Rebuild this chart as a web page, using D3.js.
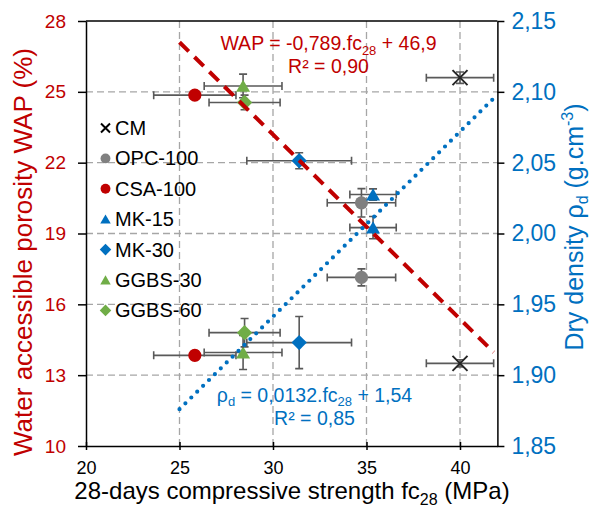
<!DOCTYPE html>
<html>
<head>
<meta charset="utf-8">
<script src="https://cdn.jsdelivr.net/npm/d3@7"></script>
<style>
body { margin: 0; background: #fff; }
svg { font-family: "Liberation Sans", Arial, sans-serif; }
</style>
</head>
<body>
<svg width="591" height="514"></svg>
<script>
// materials, in legend order
var materials = ["CM", "OPC-100", "CSA-100", "MK-15", "MK-30", "GGBS-30", "GGBS-60"];
var fc = [40.0, 34.73, 25.82, 35.35, 31.4, 28.4, 28.48];
var fcErr = [1.8, 1.83, 2.2, 1.24, 2.8, 2.08, 1.9];
var wap = [13.5, 20.3, 24.86, 19.25, 22.08, 25.25, 24.55];
var wapErr = [0.15, 0.6, 0.1, 0.47, 0.34, 0.5, 0.31];
var density = [2.11, 1.969, 1.914, 2.0275, 1.923, 1.916, 1.930];
var densityErr = [0.004, 0.006, 0.003, 0.004, 0.0184, 0.012, 0.01];
var shapes = ["x", "circle", "circle", "triangle", "diamond", "triangle", "diamond"];
var colors = ["#262626", "#808080", "#C00000", "#0070C0", "#0070C0", "#70AD47", "#70AD47"];

// trend lines (end points)
var wapTrend = [[25, 27.1], [41.8, 13.97]];
var densTrend = [[25, 1.876], [42, 2.098]];

var xTicks = [20, 25, 30, 35, 40];
var wapTicks = [10, 13, 16, 19, 22, 25, 28];
var densTicks = [1.85, 1.90, 1.95, 2.00, 2.05, 2.10, 2.15];

var red = "#C00000", blue = "#0070C0";

var svg = d3.select("svg"),
    x = d3.scaleLinear().domain([20, 42]).range([86, 497.4]),
    yW = d3.scaleLinear().domain([10, 28]).range([446, 21]),
    yD = d3.scaleLinear().domain([1.85, 2.15]).range([446, 21]);

// grid
var grid = svg.append("g").attr("stroke", "#A6A6A6").attr("stroke-width", 1.3).attr("stroke-dasharray", "7,4");
grid.selectAll(".h").data(wapTicks.slice(1, -1)).enter().append("line")
    .attr("x1", x(20)).attr("x2", x(42))
    .attr("y1", function (d) { return yW(d); }).attr("y2", function (d) { return yW(d); });
grid.selectAll(".v").data(xTicks.slice(1)).enter().append("line")
    .attr("y1", yW(28)).attr("y2", yW(10))
    .attr("x1", function (d) { return x(d); }).attr("x2", function (d) { return x(d); });

// frame top
svg.append("line").attr("x1", x(20)).attr("x2", x(42)).attr("y1", yW(28)).attr("y2", yW(28))
    .attr("stroke", "#000").attr("stroke-width", 1.5);

// axes
var comma = function (d) { return d3.format(".2f")(d).replace(".", ","); };

var gl = svg.append("g").attr("transform", "translate(" + x(20) + ",0)")
    .call(d3.axisLeft(yW).tickValues(wapTicks).tickSize(8).tickSizeOuter(0).tickPadding(12));
gl.selectAll("text").attr("fill", red).style("font-size", "19px");

var gr = svg.append("g").attr("transform", "translate(" + x(42) + ",0)")
    .call(d3.axisRight(yD).tickValues(densTicks).tickFormat(comma).tickSize(7).tickSizeOuter(0).tickPadding(7));
gr.selectAll("text").attr("fill", blue).style("font-size", "23px");

var gb = svg.append("g").attr("transform", "translate(0," + yW(10) + ")")
    .call(d3.axisBottom(x).tickValues(xTicks).tickSize(4).tickSizeOuter(0).tickPadding(11));
gb.selectAll(".tick line").attr("y1", -4);
gb.selectAll("text").attr("fill", "#000").style("font-size", "18px");

svg.selectAll(".domain").attr("stroke", "#000").attr("stroke-width", 1.5);
svg.selectAll(".tick line").attr("stroke", "#000").attr("stroke-width", 1.5);

// markers
function marker(g, shape, color, s) {
    if (shape == "circle") {
        g.append("circle").attr("r", s * 0.47).attr("fill", color);
    } else if (shape == "triangle") {
        g.append("path").attr("d", "M0," + (-s * 0.45) + "L" + (s * 0.5) + "," + (s * 0.42) + "L" + (-s * 0.5) + "," + (s * 0.42) + "Z")
            .attr("fill", color);
    } else if (shape == "diamond") {
        var h = s * 0.55;
        g.append("path").attr("d", "M0," + (-h) + "L" + h + ",0L0," + h + "L" + (-h) + ",0Z").attr("fill", color);
    } else {
        var k = s * 0.5;
        g.append("path").attr("d", "M" + (-k) + "," + (-k) + "L" + k + "," + k + "M" + (-k) + "," + k + "L" + k + "," + (-k))
            .attr("stroke", color).attr("stroke-width", 2).attr("fill", "none");
    }
}

var pts = [];
materials.forEach(function (m, i) {
    pts.push({ i: i, cx: x(fc[i]), cy: yW(wap[i]), x0: x(fc[i] - fcErr[i]), x1: x(fc[i] + fcErr[i]),
        y0: yW(wap[i] - wapErr[i]), y1: yW(wap[i] + wapErr[i]) });
    pts.push({ i: i, cx: x(fc[i]), cy: yD(density[i]), x0: x(fc[i] - fcErr[i]), x1: x(fc[i] + fcErr[i]),
        y0: yD(density[i] - densityErr[i]), y1: yD(density[i] + densityErr[i]) });
});

var cap = 4;
pts.forEach(function (p) {
    var g = svg.append("g").attr("stroke", "#595959").attr("stroke-width", 1.6).attr("fill", "none");
    g.append("path").attr("d",
        "M" + p.x0 + "," + p.cy + "H" + p.x1 +
        "M" + p.x0 + "," + (p.cy - cap) + "V" + (p.cy + cap) +
        "M" + p.x1 + "," + (p.cy - cap) + "V" + (p.cy + cap) +
        "M" + p.cx + "," + p.y0 + "V" + p.y1 +
        "M" + (p.cx - cap) + "," + p.y0 + "H" + (p.cx + cap) +
        "M" + (p.cx - cap) + "," + p.y1 + "H" + (p.cx + cap));
    var mg = svg.append("g").attr("transform", "translate(" + p.cx + "," + p.cy + ")");
    marker(mg, shapes[p.i], colors[p.i], shapes[p.i] == "x" ? 15 : 14);
});

// trend lines
svg.append("path")
    .attr("d", d3.line().x(function (d) { return x(d[0]); }).y(function (d) { return yW(d[1]); })(wapTrend))
    .attr("stroke", red).attr("stroke-width", 4).attr("stroke-dasharray", "13,8").attr("fill", "none");
svg.append("path")
    .attr("d", d3.line().x(function (d) { return x(d[0]); }).y(function (d) { return yD(d[1]); })(densTrend))
    .attr("stroke", blue).attr("stroke-width", 4.2).attr("stroke-linecap", "round")
    .attr("stroke-dasharray", "0,8.3").attr("fill", "none");

// legend
var leg = svg.append("g");
materials.forEach(function (m, i) {
    var ly = 128 + i * 30.4;
    var mg = leg.append("g").attr("transform", "translate(105.5," + ly + ")");
    marker(mg, shapes[i], shapes[i] == "x" ? "#000" : colors[i], shapes[i] == "x" ? 9 : 10.5);
    leg.append("text").attr("x", 115).attr("y", ly).attr("dy", "0.35em")
        .style("font-size", "20px").attr("fill", "#000").text(m);
});

// equations: parts are [text, shift] where shift > 0 means subscript
function label(cx, yy, color, parts) {
    var t = svg.append("text").attr("x", cx).attr("y", yy).attr("text-anchor", "middle")
        .attr("fill", color).style("font-size", "19.5px");
    var cur = 0;
    parts.forEach(function (p) {
        var sh = p[1] || 0;
        var ts = t.append("tspan").attr("dy", sh - cur).text(p[0]);
        if (sh) ts.style("font-size", "13px");
        cur = sh;
    });
}
label(328.5, 50, red, [["WAP = -0,789.fc"], ["28", 5], [" + 46,9"]]);
label(328.5, 73, red, [["R² = 0,90"]]);
label(314.5, 402, blue, [["ρ"], ["d", 4], [" = 0,0132.fc"], ["28", 4], [" + 1,54"]]);
label(314.5, 425, blue, [["R² = 0,85"]]);

// axis titles
var xt = svg.append("text").attr("x", 292).attr("y", 499).attr("text-anchor", "middle")
    .style("font-size", "24px").attr("fill", "#000");
xt.append("tspan").text("28-days compressive strength fc");
xt.append("tspan").attr("dy", 6).style("font-size", "16px").text("28");
xt.append("tspan").attr("dy", -6).text(" (MPa)");

svg.append("text").attr("transform", "translate(32,252) rotate(-90)").attr("text-anchor", "middle")
    .style("font-size", "26px").attr("fill", red).text("Water accessible porosity WAP (%)");

var rt = svg.append("text").attr("transform", "translate(583,227) rotate(-90)").attr("text-anchor", "middle")
    .style("font-size", "25px").attr("fill", blue);
rt.append("tspan").text("Dry density ρ");
rt.append("tspan").attr("dy", 5).style("font-size", "16px").text("d");
rt.append("tspan").attr("dy", -5).text(" (g.cm");
rt.append("tspan").attr("dy", -10).style("font-size", "16px").text("-3");
rt.append("tspan").attr("dy", 10).text(")");
</script>
</body>
</html>
